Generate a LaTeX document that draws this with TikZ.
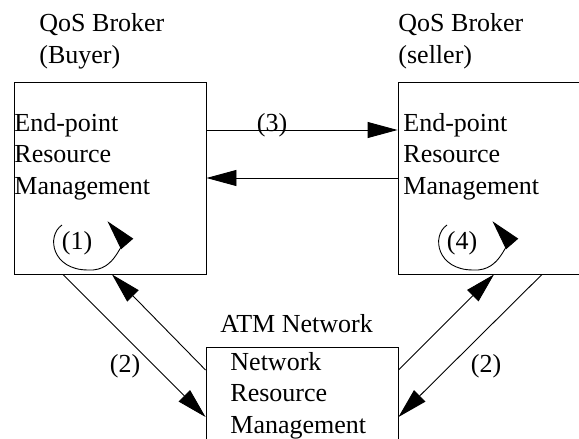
\documentclass[tikz,border=0pt]{standalone}
\usepackage{fontspec}
\setmainfont{Liberation Serif}
\usetikzlibrary{arrows.meta}
\tikzset{>/.tip={Triangle[length=30pt,width=16pt]}}
\newcommand{\selfturn}[1]{%
 \draw[->] ([shift={(-15,-24)}]#1.base)
   .. controls ([shift={(-31,-13)}]#1.base) and ([shift={(-25,21)}]#1.base) .. ([shift={(11,21)}]#1.base)
   .. controls ([shift={(41,23)}]#1.base) and ([shift={(43.5,-12.7)}]#1.base) .. ([shift={(30.5,-27.7)}]#1.base);}

\begin{document}
\begin{tikzpicture}[x=1pt, y=-1pt, line width=0.9pt,
  every node/.style={font=\fontsize{26}{31.5}\selectfont, inner sep=0pt}]
 \useasboundingbox (0,0) rectangle (579,439);
 \clip (0,0) rectangle (579,439);

 \node[draw, minimum width=192, minimum height=192] (buyer)  at (110,178) {};
 \node[draw, minimum width=192, minimum height=192] (seller) at (494,178) {};
 \node[draw, minimum width=192, minimum height=124] (atm)    at (302,409) {};

 % multi-line nodes: base is the last line
 \node[anchor=base west, align=left] (buyername)  at (39,63)   {QoS Broker\\(Buyer)};
 \node[anchor=base west, align=left] (sellername) at (398,63)  {QoS Broker\\(seller)};
 \node[anchor=base west]             (atmname)    at (220,332) {ATM Network};

 \node[anchor=base west, align=left] (buyerrm)  at (14,194)  {End-point\\Resource\\Management};
 \node[anchor=base west, align=left] (sellerrm) at (403,194) {End-point\\Resource\\Management};
 \node[anchor=base west, align=left] (atmrm)    at (230,433) {Network\\Resource\\Management};

 \node[anchor=base] (three) at (272,131) {(3)};
 \node[anchor=base] (twol)  at (125,372) {(2)};
 \node[anchor=base] (twor)  at (486,372) {(2)};
 \node[anchor=base] (one)   at (77,249)  {(1)};
 \node[anchor=base] (four)  at (462,249) {(4)};

 \draw[->] ([shift={(0,-48)}]buyer.east) to ([shift={(0,-48)}]seller.west);
 \draw[->] (seller.west) to (buyer.east);

 \draw[->] ([shift={(-47,0)}]buyer.south) to ([shift={(0,8)}]atm.west);
 \draw[->] ([shift={(0,-39)}]atm.west) to ([shift={(2,0)}]buyer.south);
 \draw[->] ([shift={(0,-39)}]atm.east) to (seller.south);
 \draw[->] ([shift={(48,0)}]seller.south) to ([shift={(0,8)}]atm.east);

 \selfturn{one}
 \selfturn{four}
\end{tikzpicture}
\end{document}
